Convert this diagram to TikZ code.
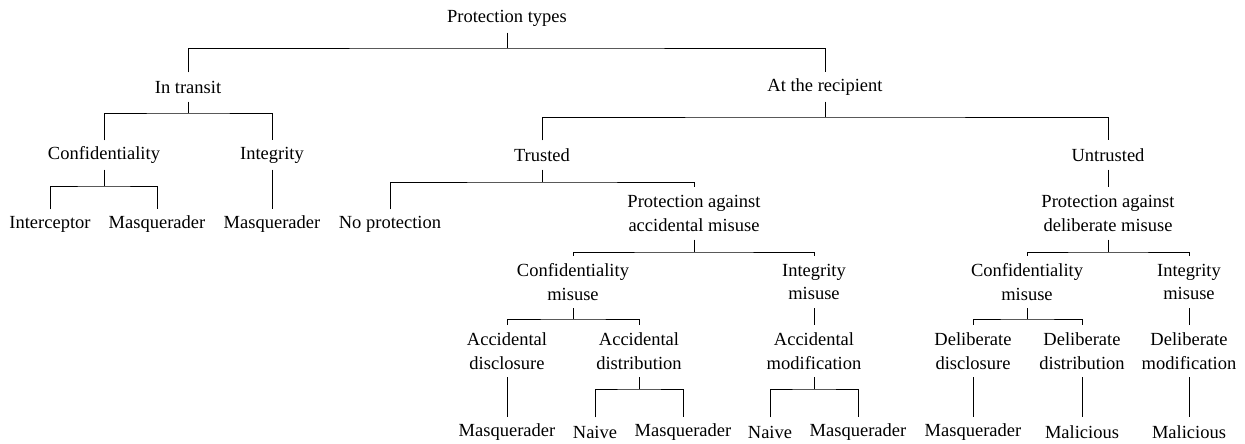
\documentclass[tikz,border=0pt]{standalone}
\usepackage{fontspec}
\setmainfont{Liberation Serif}
\begin{document}
\begin{tikzpicture}[x=1pt,y=-1pt,
  lbl/.style={inner sep=0pt,minimum height=29pt,align=center,font=\fontsize{18.5}{23.5}\selectfont},
  lbltwo/.style={lbl,minimum height=52pt},
  conn/.style={draw=black,line width=0.9pt}]
\useasboundingbox (0,0) rectangle (1245,444);
% level 0-1
\node[lbl] (pt) at (507,18) {Protection types};
\node[lbl] (it) at (188,87) {In transit};
\node[lbl] (ar) at (825,87) {At the recipient};
% in transit branch
\node[lbl] (c1) at (104,155) {Confidentiality};
\node[lbl] (i1) at (272,155) {Integrity};
\node[lbl] (l1) at (50,224) {Interceptor};
\node[lbl] (l2) at (157,224) {Masquerader};
\node[lbl] (l3) at (272,224) {Masquerader};
% recipient branch
\node[lbl] (tr) at (542,155) {Trusted};
\node[lbl] (un) at (1108,155) {Untrusted};
\node[lbl] (np) at (390,224) {No protection};
\node[lbltwo] (pa) at (694,213.5) {Protection against\\accidental misuse};
\node[lbltwo] (pd) at (1108,213.5) {Protection against\\deliberate misuse};
% accidental
\node[lbltwo] (cma) at (573,282) {Confidentiality\\misuse};
\node[lbltwo] (ima) at (814,282) {Integrity\\misuse};
\node[lbltwo] (ad) at (507,351) {Accidental\\disclosure};
\node[lbltwo] (adi) at (639,351) {Accidental\\distribution};
\node[lbltwo] (am) at (814,351) {Accidental\\modification};
\node[lbl] (la1) at (507,432) {Masquerader};
\node[lbl] (la2) at (595,432) {Naive};
\node[lbl] (la3) at (683,432) {Masquerader};
\node[lbl] (la4) at (770,432) {Naive};
\node[lbl] (la5) at (858,432) {Masquerader};
% deliberate
\node[lbltwo] (cmd) at (1027,282) {Confidentiality\\misuse};
\node[lbltwo] (imd) at (1189,282) {Integrity\\misuse};
\node[lbltwo] (dd) at (973,351) {Deliberate\\disclosure};
\node[lbltwo] (ddi) at (1082,351) {Deliberate\\distribution};
\node[lbltwo] (dm) at (1189,351) {Deliberate\\modification};
\node[lbl] (ld1) at (973,432) {Masquerader};
\node[lbl] (ld2) at (1082,432) {Malicious};
\node[lbl] (ld3) at (1189,432) {Malicious};
% bar coordinates
\coordinate (b0) at (507,48);
\coordinate (b1) at (188,113);
\coordinate (b2) at (104,186);
\coordinate (b3) at (825,117);
\coordinate (b4) at (542,182);
\coordinate (b5) at (694,252);
\coordinate (b6) at (573,319);
\coordinate (b7) at (639,389);
\coordinate (b8) at (814,389);
\coordinate (b9) at (1108,252);
\coordinate (b10) at (1027,319);
% connectors
\draw[conn] (pt.south) -- (b0);
\draw[conn] (it.north) |- (b0) -| (ar.north);
\draw[conn] (it.south) -- (b1);
\draw[conn] (c1.north) |- (b1) -| (i1.north);
\draw[conn] (c1.south) -- (b2);
\draw[conn] (l1.north) |- (b2) -| (l2.north);
\draw[conn] (i1.south) -- (l3.north);
\draw[conn] (ar.south) -- (b3);
\draw[conn] (tr.north) |- (b3) -| (un.north);
\draw[conn] (tr.south) -- (b4);
\draw[conn] (np.north) |- (b4) -| (pa.north);
\draw[conn] (un.south) -- (pd.north);
\draw[conn] (pa.south) -- (b5);
\draw[conn] (cma.north) |- (b5) -| (ima.north);
\draw[conn] (cma.south) -- (b6);
\draw[conn] (ad.north) |- (b6) -| (adi.north);
\draw[conn] (ima.south) -- (am.north);
\draw[conn] (ad.south) -- (la1.north);
\draw[conn] (adi.south) -- (b7);
\draw[conn] (la2.north) |- (b7) -| (la3.north);
\draw[conn] (am.south) -- (b8);
\draw[conn] (la4.north) |- (b8) -| (la5.north);
\draw[conn] (pd.south) -- (b9);
\draw[conn] (cmd.north) |- (b9) -| (imd.north);
\draw[conn] (cmd.south) -- (b10);
\draw[conn] (dd.north) |- (b10) -| (ddi.north);
\draw[conn] (imd.south) -- (dm.north);
\draw[conn] (dd.south) -- (ld1.north);
\draw[conn] (ddi.south) -- (ld2.north);
\draw[conn] (dm.south) -- (ld3.north);
\end{tikzpicture}
\end{document}
